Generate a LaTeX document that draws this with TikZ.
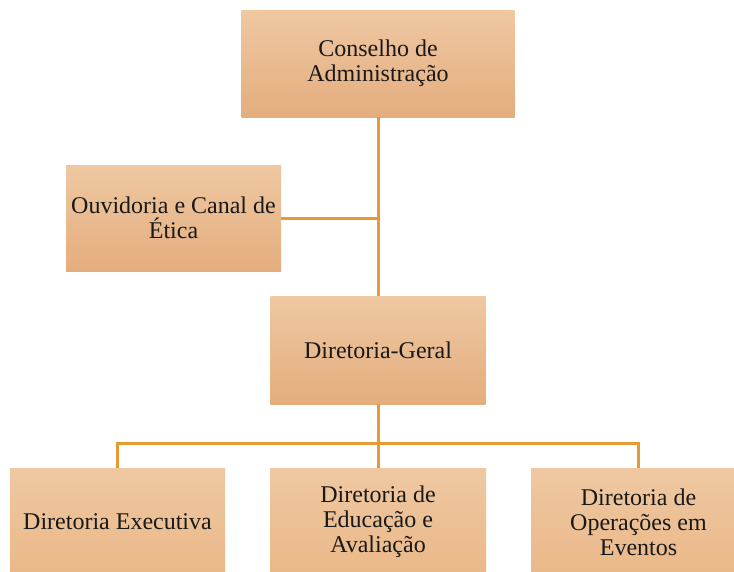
\documentclass[tikz,border=0pt]{standalone}
\usepackage{fontspec}
\setmainfont{Liberation Serif}
\definecolor{boxtop}{RGB}{239,200,162}
\definecolor{boxbot}{RGB}{228,173,126}
\definecolor{boxbotb}{RGB}{234,184,136}
\definecolor{linec}{RGB}{229,155,50}
\begin{document}
\begin{tikzpicture}[x=1pt,y=-1pt,
  orgbox/.style={rectangle, top color=boxtop, bottom color=boxbot, draw=none,
    align=center, inner sep=0pt, font=\fontsize{24}{25}\selectfont, text=black!90},
  lowbox/.style={orgbox, bottom color=boxbotb},
  conn/.style={draw=linec, line width=3pt}]
\useasboundingbox (0,0) rectangle (734,571);
\clip (0,0) rectangle (734,571);
\node[orgbox, minimum width=273pt, minimum height=107pt] (cons) at (378,63.5) {Conselho de\\Administração};
\node[orgbox, minimum width=215pt, minimum height=106pt] (ouv) at (173.5,218) {Ouvidoria e Canal de\\Ética};
\node[orgbox, minimum width=215pt, minimum height=108pt] (dg) at (378,350) {Diretoria-Geral};
\node[lowbox, minimum width=215pt, minimum height=108pt] (de) at (117.5,522) {Diretoria Executiva};
\node[lowbox, minimum width=216pt, minimum height=108pt] (dea) at (378,522) {Diretoria de\\Educação e\\Avaliação};
\node[lowbox, minimum width=215pt, minimum height=108pt] (doe) at (638.5,522) {Diretoria de\\Operações em\\Eventos};
\draw[conn] (cons.south) -- (dg.north);
\draw[conn] (ouv.east) -- (ouv.east -| cons.south);
\draw[conn] (dg.south) -- ++(0,39) coordinate (bus);
\draw[conn] (de.north) |- (bus) -| (doe.north);
\draw[conn] (bus) -- (dea.north);
\end{tikzpicture}
\end{document}
